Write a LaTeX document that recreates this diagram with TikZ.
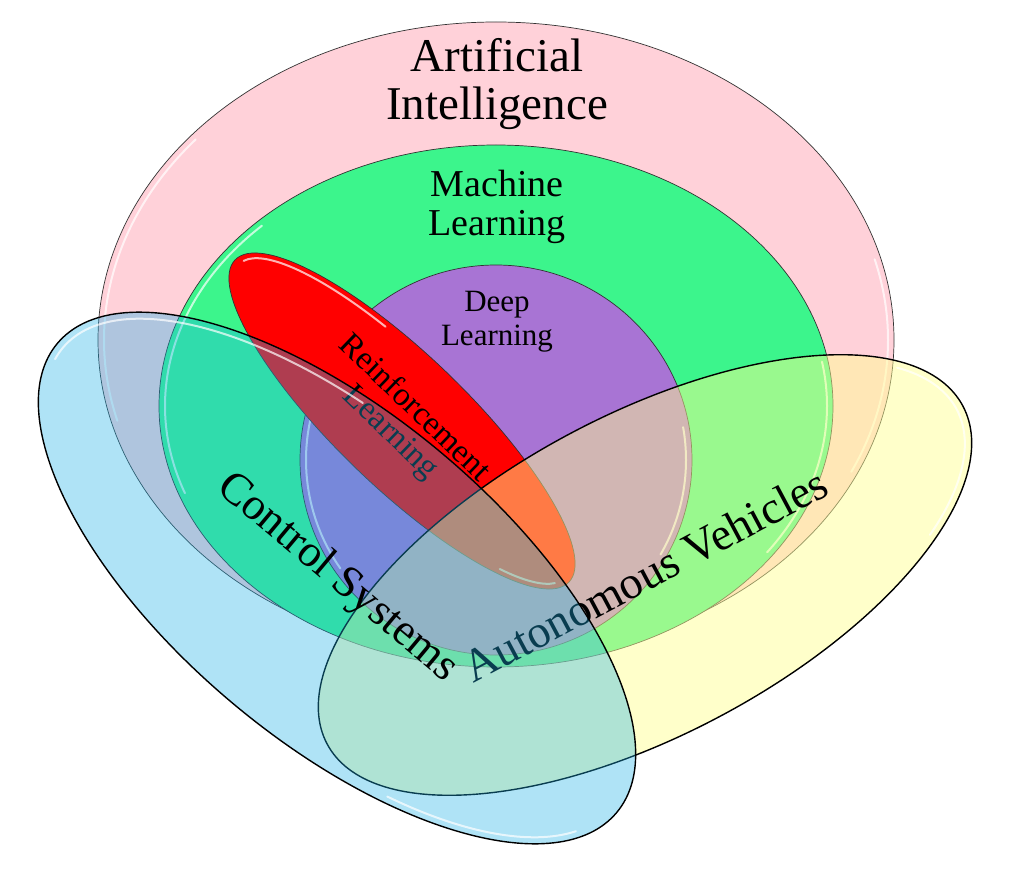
\documentclass[tikz,border=0pt]{standalone}
\usepackage{fontspec}
\setmainfont{Liberation Serif}
\usepackage{xcolor}
\usetikzlibrary{shapes.geometric}

\definecolor{aipink}{RGB}{255,209,217}
\definecolor{mlgreen}{RGB}{60,245,140}
\definecolor{dlpurple}{RGB}{168,116,212}
\definecolor{rlred}{RGB}{255,0,0}
\definecolor{avyellow}{RGB}{255,255,145}
\definecolor{csblue}{RGB}{28,176,232}

\begin{document}
\begin{tikzpicture}[x=1pt, y=-1pt,
        set/.style={ellipse, draw=black!80, line width=0.7pt, fill=#1, inner sep=0pt, outer sep=0pt, align=center},
        overlap/.style={set=#1, draw=black, line width=1.4pt, text opacity=1},
        setname/.style={align=center, inner sep=0pt, text=black},
        gloss/.style={white, line width=2pt, opacity=0.7, line cap=round}
    ]
        \fill[white] (0,0) rectangle (1013,877);
        \useasboundingbox (0,0) rectangle (1013,877);

        % Nested sets
        \node[set=aipink, minimum width=796pt, minimum height=636pt] (ai) at (496,340) {};
        \draw[gloss, shift={(ai.center)}] (140:392pt and 312pt) arc[start angle=140, end angle=195, x radius=392pt, y radius=312pt];
        \draw[gloss, shift={(ai.center)}] (-25:392pt and 312pt) arc[start angle=-25, end angle=15, x radius=392pt, y radius=312pt];

        \node[set=mlgreen, minimum width=674pt, minimum height=522pt] (ml) at (496,406) {};
        \draw[gloss, shift={(ml.center)}] (135:331pt and 255pt) arc[start angle=135, end angle=200, x radius=331pt, y radius=255pt];
        \draw[gloss, shift={(ml.center)}] (-35:331pt and 255pt) arc[start angle=-35, end angle=10, x radius=331pt, y radius=255pt];

        \node[set=dlpurple, minimum width=392pt, minimum height=390pt] (dl) at (496,460) {};
        \draw[gloss, shift={(dl.center)}] (160:190pt and 189pt) arc[start angle=160, end angle=215, x radius=190pt, y radius=189pt];
        \draw[gloss, shift={(dl.center)}] (-30:190pt and 189pt) arc[start angle=-30, end angle=10, x radius=190pt, y radius=189pt];

        \node[set=rlred, rotate=-44, minimum width=464pt, minimum height=132pt,
              font=\fontsize{33}{34}\selectfont] (rl) at (402,421) {Reinforcement\\Learning};
        \draw[gloss, shift={(rl.center)}, rotate=-44] (110:226pt and 60pt) arc[start angle=110, end angle=175, x radius=226pt, y radius=60pt];
        \draw[gloss, shift={(rl.center)}, rotate=-44] (-40:226pt and 60pt) arc[start angle=-40, end angle=-10, x radius=226pt, y radius=60pt];

        % Names of the nested sets
        \node[setname, font=\fontsize{47}{48}\selectfont] (ainame) at (497,84) {Artificial\\Intelligence};
        \node[setname, font=\fontsize{38}{39}\selectfont] (mlname) at (497,207) {Machine\\Learning};
        \node[setname, font=\fontsize{31}{34}\selectfont] (dlname) at (497,322) {Deep\\Learning};

        % Application areas
        \node[overlap=avyellow, fill opacity=0.48, rotate=28, minimum width=720pt, minimum height=320pt,
              font=\fontsize{46}{48}\selectfont] (av) at (645,575) {Autonomous Vehicles};
        \draw[gloss, shift={(av.center)}, rotate=28] (-40:353pt and 153pt) arc[start angle=-40, end angle=25, x radius=353pt, y radius=153pt];

        \node[overlap=csblue, fill opacity=0.35, rotate=-40, minimum width=730pt, minimum height=326pt,
              font=\fontsize{45}{48}\selectfont] (cs) at (337,578) {Control Systems};
        \draw[gloss, shift={(cs.center)}, rotate=-40] (105:358pt and 156pt) arc[start angle=105, end angle=185, x radius=358pt, y radius=156pt];
        \draw[gloss, shift={(cs.center)}, rotate=-40] (-60:358pt and 156pt) arc[start angle=-60, end angle=-15, x radius=358pt, y radius=156pt];
    \end{tikzpicture}
\end{document}
